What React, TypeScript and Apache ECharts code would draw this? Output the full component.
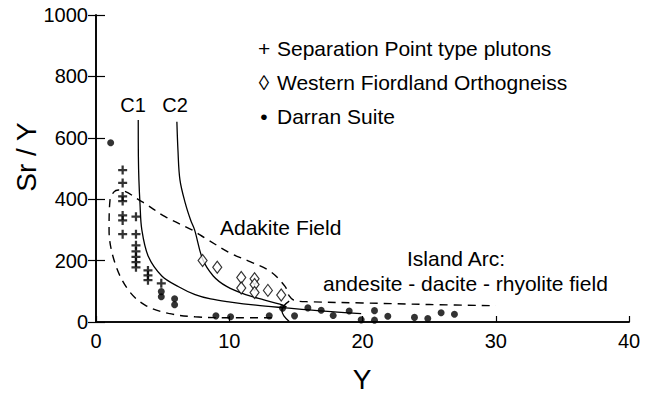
import React, { useEffect, useRef } from "react";
import * as echarts from "echarts";

// Separation Point type plutons (Y, Sr/Y)
const separationPoint: number[][] = [
  [2, 495], [2, 453], [2, 409], [2, 394], [2, 347], [2, 331], [2, 286],
  [3, 343], [3, 286], [3, 250], [3, 230], [3, 212], [3, 195], [3, 178],
  [3.9, 168], [3.9, 152], [3.9, 136], [4.9, 126],
];

// Western Fiordland Orthogneiss
const westernFiordland: number[][] = [
  [8, 200], [9.1, 178], [10.9, 145], [10.9, 111], [11.9, 141], [11.9, 122],
  [11.9, 96], [12.9, 103], [13.9, 88],
];

// Darran Suite
const darranSuite: number[][] = [
  [1.1, 584], [4.9, 99], [4.9, 82], [5.9, 76], [5.9, 56], [9, 20], [10.1, 17],
  [13, 20], [14, 45], [14.9, 20], [15.9, 46], [16.9, 38], [17.8, 21], [19, 36],
  [19.9, 7], [20.9, 37], [20.9, 6], [21.9, 19], [23.9, 15], [24.9, 11],
  [25.9, 30], [26.9, 25],
];

// Model curves C1 and C2
const curveC1: number[][] = [
  [3.17, 658], [3.18, 540], [3.22, 463], [3.3, 387], [3.44, 300], [3.93, 213],
  [4.94, 150], [6.2, 115], [7.44, 89], [8.6, 75], [10.1, 65], [12, 55],
  [14.2, 46], [16.8, 36], [19.9, 27],
];
const curveC2: number[][] = [
  [6.07, 652], [6.15, 560], [6.3, 463], [6.7, 387], [7.1, 332], [7.4, 300],
  [8.0, 205], [8.8, 150], [9.8, 116], [11.3, 88], [12.6, 72], [13.8, 58],
  [14.3, 49],
];

// Adakite field outline, continuing as the upper edge of the island arc field
const adakiteBoundary: number[][] = [
  [13.2, 14], [10, 14], [7.44, 17], [5.44, 28], [3.68, 55], [2.43, 104],
  [1.43, 191], [0.98, 300], [1.05, 397], [1.35, 424], [1.68, 430],
  [3.44, 392], [5.19, 343], [7.2, 300], [8.2, 273], [10.1, 224], [11.6, 196],
  [13.1, 164], [14.2, 115], [14.5, 85], [14.9, 70], [16, 66], [20, 62],
  [25, 57], [30, 53],
];

// Left edge of the island arc field
const islandArcEdge: number[][] = [
  [14.5, 68], [14.1, 53], [13.95, 38], [14.1, 20], [14.5, 2],
];

const xTicks = { min: 0, max: 40, interval: 10 };
const yTicks = { min: 0, max: 1000, interval: 200 };

const legendRows = [
  { mark: "+", label: "Separation Point type plutons" },
  { mark: "\u25CA", label: "Western Fiordland Orthogneiss" },
  { mark: "\u2022", label: "Darran Suite" },
];

const FONT = "'Liberation Sans', Arial, Helvetica, sans-serif";
const crossSymbol = "path://M3,0H5V3H8V5H5V8H3V5H0V3H3Z";

export default function App() {
  const ref = useRef<HTMLDivElement>(null);

  useEffect(() => {
    if (!ref.current) return;
    const chart = echarts.init(ref.current, undefined, { renderer: "svg" });

    const axisLine = { show: true, lineStyle: { color: "#000", width: 1.6 } };
    const lineSeries = (name: string, data: number[][], dashed: boolean) => ({
      name,
      type: "line",
      data,
      smooth: 0.35,
      showSymbol: false,
      symbol: "none",
      silent: true,
      lineStyle: {
        color: "#000",
        width: dashed ? 1.4 : 1.3,
        type: dashed ? [8, 6] : "solid",
      },
      z: 2,
    });

    const text = (t: string, x: number, y: number, align = "left", size = 21) => ({
      type: "text",
      x,
      y,
      style: { text: t, font: `${size}px ${FONT}`, fill: "#000", align, verticalAlign: "middle" },
    });

    const graphics: any[] = [];
    legendRows.forEach((row, i) => {
      const y = 48 + i * 34;
      graphics.push(text(row.mark, 264, y, "center"));
      graphics.push(text(row.label, 277, y));
    });
    graphics.push(text("C1", 133, 105, "center", 20));
    graphics.push(text("C2", 175, 105, "center", 20));
    graphics.push(text("Adakite Field", 220, 227));
    graphics.push(text("Island Arc:", 407, 258));
    graphics.push(text("andesite - dacite - rhyolite field", 323, 283));
    graphics.push({
      type: "text",
      x: 26,
      y: 157,
      rotation: Math.PI / 2,
      style: {
        text: "Sr / Y",
        font: `28px ${FONT}`,
        fill: "#000",
        align: "center",
        verticalAlign: "middle",
      },
    });
    graphics.push(text("Y", 362, 379, "center", 28));

    chart.setOption({
      animation: false,
      backgroundColor: "#fff",
      grid: { left: 96, right: 22, top: 15, bottom: 72, containLabel: false },
      xAxis: [
        {
          type: "value",
          ...xTicks,
          position: "bottom",
          axisLine,
          axisTick: { show: true, inside: true, length: 6, lineStyle: { color: "#000", width: 1.2 } },
          axisLabel: { color: "#000", fontSize: 20, fontFamily: FONT, margin: 9 },
          splitLine: { show: false },
        },
        {
          type: "value",
          ...xTicks,
          position: "top",
          axisLine,
          axisTick: { show: false },
          axisLabel: { show: false },
          splitLine: { show: false },
        },
      ],
      yAxis: [
        {
          type: "value",
          ...yTicks,
          position: "left",
          axisLine,
          axisTick: { show: true, inside: true, length: 9, lineStyle: { color: "#000", width: 1.2 } },
          axisLabel: {
            color: "#000",
            fontSize: 20,
            fontFamily: FONT,
            margin: 8,
            formatter: (v: number) => String(v),
          },
          splitLine: { show: false },
        },
        {
          type: "value",
          ...yTicks,
          position: "right",
          axisLine,
          axisTick: { show: true, inside: true, length: 8, lineStyle: { color: "#000", width: 1.2 } },
          axisLabel: { show: false },
          splitLine: { show: false },
        },
      ],
      graphic: graphics,
      series: [
        lineSeries("C1", curveC1, false),
        lineSeries("C2", curveC2, false),
        lineSeries("Adakite Field", adakiteBoundary, true),
        lineSeries("Island Arc edge", islandArcEdge, false),
        {
          name: "Separation Point type plutons",
          type: "scatter",
          data: separationPoint,
          symbol: crossSymbol,
          symbolSize: 9,
          itemStyle: { color: "#000" },
          z: 5,
        },
        {
          name: "Western Fiordland Orthogneiss",
          type: "scatter",
          data: westernFiordland,
          symbol: "diamond",
          symbolSize: [9, 12],
          itemStyle: { color: "#fff", borderColor: "#000", borderWidth: 1.2 },
          z: 5,
        },
        {
          name: "Darran Suite",
          type: "scatter",
          data: darranSuite,
          symbol: "circle",
          symbolSize: 7,
          itemStyle: { color: "#000" },
          z: 6,
        },
      ],
    });

    return () => chart.dispose();
  }, []);

  return <div ref={ref} style={{ width: 651, height: 394, position: "absolute", left: 0, top: 0 }} />;
}
